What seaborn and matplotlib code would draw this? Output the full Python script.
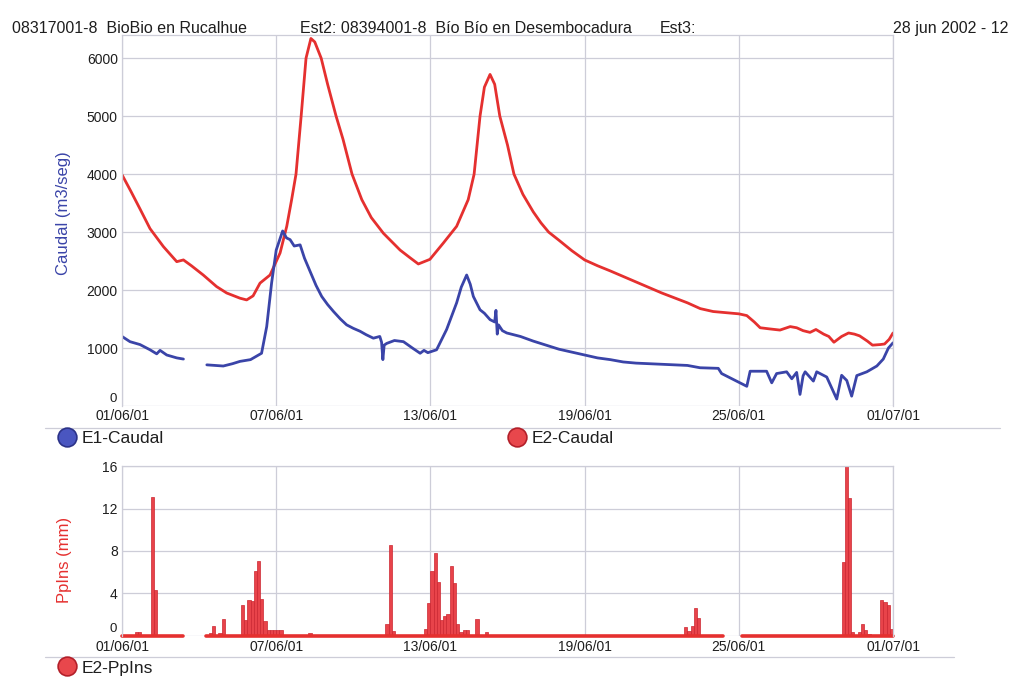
import numpy as np
import pandas as pd
import matplotlib
matplotlib.use("Agg")
import matplotlib.pyplot as plt
import matplotlib.transforms as mtransforms
from matplotlib.lines import Line2D
import seaborn as sns

# ---------------- data ----------------
tick_days = [0, 6, 12, 18, 24, 30]
tick_labels = ["01/06/01", "07/06/01", "13/06/01", "19/06/01", "25/06/01", "01/07/01"]

# E2-Caudal (Bío Bío en Desembocadura), days since 01/06/01
e2_day = [0, 0.35, 0.7, 1.09, 1.61, 2.13, 2.39, 2.7, 3.16, 3.68, 4.07, 4.59, 4.85, 5.1,
          5.37, 5.76, 6.15, 6.41, 6.6, 6.77, 6.97, 7.16, 7.35, 7.5, 7.75, 8.0, 8.33, 8.6,
          8.95, 9.33, 9.7, 10.17, 10.82, 11.2, 11.53, 11.98, 12.5, 13.02, 13.47, 13.7,
          13.93, 14.1, 14.32, 14.5, 14.7, 15.0, 15.25, 15.6, 16.0, 16.3, 16.6, 17.0, 17.5,
          18.0, 18.5, 19.0, 20.0, 21.0, 22.0, 22.5, 23.0, 24.0, 24.31, 24.6, 24.83, 25.2,
          25.6, 26.0, 26.25, 26.5, 26.77, 27.0, 27.3, 27.5, 27.7, 28.0, 28.27, 28.5, 28.7,
          29.0, 29.2, 29.5, 29.67, 29.85, 30.0]
e2_caudal = [3990, 3700, 3400, 3060, 2750, 2490, 2520, 2420, 2260, 2060, 1950, 1860, 1830, 1900,
             2120, 2260, 2640, 3100, 3560, 4000, 5000, 6000, 6340, 6280, 6000, 5550, 5000, 4600,
             4000, 3560, 3250, 2980, 2690, 2560, 2450, 2530, 2810, 3100, 3560, 4000,
             5000, 5500, 5720, 5550, 5000, 4500, 4000, 3650, 3350, 3160, 3000, 2860, 2680,
             2520, 2420, 2330, 2140, 1950, 1780, 1680, 1630, 1590, 1560, 1450, 1350, 1330,
             1310, 1370, 1350, 1300, 1270, 1320, 1240, 1200, 1100, 1200, 1260, 1240, 1210,
             1120, 1050, 1060, 1070, 1150, 1260]

# E1-Caudal (BioBio en Rucalhue): two recorded segments
e1_day_a = [0, 0.31, 0.7, 1.09, 1.35, 1.48, 1.74, 2.13, 2.39]
e1_caudal_a = [1200, 1110, 1060, 970, 900, 960, 880, 830, 810]
e1_day_b = [3.3, 3.94, 4.3, 4.59, 5.0, 5.43, 5.63, 5.82, 6.0, 6.25, 6.4, 6.54, 6.7, 6.93,
            7.1, 7.32, 7.55, 7.77, 8.0, 8.23, 8.5, 8.74, 9.0, 9.26, 9.5, 9.78, 10.03, 10.1,
            10.15, 10.2, 10.3, 10.6, 10.95, 11.3, 11.6, 11.75, 11.9, 12.24, 12.63, 13.02,
            13.2, 13.41, 13.55, 13.67, 13.93, 14.1, 14.32, 14.5, 14.55, 14.6, 14.65, 14.8,
            14.97, 15.5, 16.0, 16.5, 17.0, 17.5, 18.0, 18.5, 19.0, 19.5, 20.0, 21.0, 21.5,
            22.0, 22.49, 23.2, 23.33, 24.31, 24.44, 25.08, 25.28, 25.47, 25.86, 26.06, 26.25,
            26.38, 26.5, 26.58, 26.9, 27.03, 27.42, 27.81, 28.0, 28.2, 28.39, 28.59, 28.98,
            29.37, 29.62, 29.82, 30.0]
e1_caudal_b = [710, 690, 730, 770, 800, 910, 1370, 2120, 2690, 3020, 2900, 2870, 2760, 2780,
               2550, 2320, 2080, 1890, 1750, 1630, 1500, 1400, 1340, 1290, 1230, 1170, 1200, 1100,
               800, 1050, 1080, 1130, 1110, 1000, 910, 960, 920, 970, 1320, 1780,
               2050, 2260, 2100, 1890, 1660, 1600, 1490, 1450, 1650, 1240, 1400, 1300,
               1260, 1200, 1120, 1050, 980, 930, 880, 830, 800, 760, 740, 720, 710,
               700, 660, 650, 560, 340, 600, 600, 400, 560, 590, 470, 580,
               200, 520, 590, 430, 590, 500, 120, 530, 440, 170, 525, 590,
               690, 810, 1000, 1090]

# E2-PpIns: 3-hour precipitation (bin start in days, mm); other recorded bins are 0
pp_day = [0.5, 0.625, 1.125, 1.25,
          3.375, 3.5, 3.75, 3.875, 4.625, 4.75, 4.875, 5.0, 5.125, 5.25, 5.375, 5.5,
          5.625, 5.75, 5.875, 6.0, 6.125, 7.25,
          10.25, 10.375, 10.5, 11.75, 11.875, 12.0, 12.125, 12.25, 12.375, 12.5, 12.625,
          12.75, 12.875, 13.0, 13.125, 13.25, 13.375, 13.75, 14.125,
          21.875, 22.0, 22.125, 22.25, 22.375,
          28.0, 28.125, 28.25, 28.375, 28.625, 28.75, 28.875, 29.0,
          29.5, 29.625, 29.75, 29.875]
pp_mm = [0.4, 0.4, 13.1, 4.3,
         0.3, 0.9, 0.3, 1.6, 2.9, 1.5, 3.4, 3.3, 6.1, 7.1, 3.5, 1.4,
         0.6, 0.6, 0.6, 0.6, 0.6, 0.3,
         1.1, 8.6, 0.5, 0.7, 3.1, 6.1, 7.8, 5.1, 1.5, 1.9, 2.1,
         6.6, 5.0, 1.1, 0.4, 0.6, 0.6, 1.6, 0.4,
         0.8, 0.5, 0.9, 2.6, 1.7,
         7.0, 16.1, 13.0, 0.4, 0.4, 1.1, 0.6, 0.2,
         3.4, 3.2, 2.9, 0.7]
pp_bin = 0.125
# periods with records (baseline drawn), days
rec_start = [0.0, 3.25, 24.125]
rec_end = [2.375, 23.375, 30.0]

header = ["08317001-8  BioBio en Rucalhue",
          "Est2: 08394001-8  Bío Bío en Desembocadura",
          "Est3:",
          "28 jun 2002 - 12"]

# ---------------- style ----------------
sns.set_theme(style="white")
plt.rcParams["font.family"] = ["Liberation Sans", "DejaVu Sans"]

RED = "#e5302f"
BLUE = "#3a44a8"
GRID = "#cdcdd8"
TXT = "#1e1e1e"

fig = plt.figure(figsize=(10.1, 6.81), dpi=100)
ax1 = fig.add_axes([0.1208, 0.4038, 0.7634, 0.5448])
ax2 = fig.add_axes([0.1208, 0.0661, 0.7634, 0.2496])

# ---------------- top panel ----------------
df_e2 = pd.DataFrame({"dia": e2_day, "caudal": e2_caudal})
df_e1 = pd.concat([
    pd.DataFrame({"dia": e1_day_a, "caudal": e1_caudal_a, "seg": 0}),
    pd.DataFrame({"dia": e1_day_b, "caudal": e1_caudal_b, "seg": 1}),
], ignore_index=True)
sns.lineplot(data=df_e2, x="dia", y="caudal", ax=ax1, color=RED, lw=2.0, estimator=None)
sns.lineplot(data=df_e1, x="dia", y="caudal", units="seg", ax=ax1, color=BLUE, lw=2.0,
             estimator=None)
for ln in ax1.lines:
    ln.set_solid_joinstyle("round")

ax1.set_xlim(0, 30)
ax1.set_ylim(0, 6400)
ax1.set_xticks(tick_days)
ax1.set_xticklabels(tick_labels)
ax1.set_yticks([0, 1000, 2000, 3000, 4000, 5000, 6000])
ax1.set_xlabel("")
ax1.set_ylabel("Caudal (m3/seg)", color=BLUE, fontsize=12)
ax1.yaxis.set_label_coords(-0.066, 0.52)

# ---------------- bottom panel ----------------
df_pp = pd.DataFrame({"centro": np.array(pp_day) + pp_bin / 2, "mm": pp_mm})
sns.histplot(data=df_pp, x="centro", weights="mm", binwidth=pp_bin, binrange=(0, 30),
             ax=ax2, color="#e8434a", edgecolor="#cc2630", linewidth=0.5, alpha=1.0)
for p in ax2.patches:
    if p.get_height() == 0:
        p.set_visible(False)

df_base = pd.DataFrame({
    "dia": rec_start + rec_end,
    "pp": [0.0] * (2 * len(rec_start)),
    "seg": list(range(len(rec_start))) * 2,
})
sns.lineplot(data=df_base, x="dia", y="pp", units="seg", ax=ax2, color=RED, lw=2.6,
             estimator=None)
for ln in ax2.lines:
    ln.set_clip_on(False)

ax2.set_xlim(0, 30)
ax2.set_ylim(0, 16)
ax2.set_xticks(tick_days)
ax2.set_xticklabels(tick_labels)
ax2.set_yticks([0, 4, 8, 12, 16])
ax2.set_xlabel("")
ax2.set_ylabel("PpIns (mm)", color=RED, fontsize=12)
ax2.yaxis.set_label_coords(-0.065, 0.45)

for ax in (ax1, ax2):
    ax.grid(True, color=GRID, lw=0.9)
    ax.set_axisbelow(True)
    ax.tick_params(length=0, labelsize=10, colors=TXT)
    ax.tick_params(axis="y", pad=3)
    for s in ("left", "right", "top"):
        ax.spines[s].set_color(GRID)
        ax.spines[s].set_linewidth(0.9)
    ax.spines["bottom"].set_visible(False)
    ax.set_facecolor("white")
ax1.tick_params(axis="x", pad=2)
ax2.tick_params(axis="x", pad=3)

# lift the "0" labels a little so they sit above the first date label
lift = mtransforms.ScaledTranslation(-1 / 72, 6 / 72, fig.dpi_scale_trans)
for ax in (ax1, ax2):
    lab0 = ax.get_yticklabels()[0]
    lab0.set_transform(lab0.get_transform() + lift)
    lab0.set_fontsize(9.5)

# ---------------- header ----------------
hy = 0.9575
fig.text(0.012, hy, header[0], fontsize=11.5, color=TXT, va="center")
fig.text(0.297, hy, header[1], fontsize=11.5, color=TXT, va="center")
fig.text(0.653, hy, header[2], fontsize=11.5, color=TXT, va="center")
fig.text(0.998, hy, header[3], fontsize=11.5, color=TXT, va="center", ha="right")

# ---------------- separators & legends ----------------
fig.add_artist(Line2D([0.045, 0.99], [0.3715, 0.3715], color=GRID, lw=0.9))
fig.add_artist(Line2D([0.045, 0.945], [0.0352, 0.0352], color=GRID, lw=0.9))


def circle_handle(face, edge, label):
    return Line2D([], [], marker="o", linestyle="", markersize=13.5,
                  markerfacecolor=face, markeredgecolor=edge, markeredgewidth=1.2,
                  label=label)


for face, edge, lab, xx, yy in [
    ("#4a56c0", "#2c3388", "E1-Caudal", 0.058, 0.3568),
    ("#e8474c", "#b3202a", "E2-Caudal", 0.5036, 0.3568),
    ("#e8474c", "#b3202a", "E2-PpIns", 0.058, 0.0191),
]:
    fig.legend(handles=[circle_handle(face, edge, lab)], loc="center left",
               bbox_to_anchor=(xx, yy), frameon=False, fontsize=12.5,
               handlelength=1.0, handletextpad=0.3, borderpad=0, borderaxespad=0,
               labelcolor=TXT)

fig.savefig("out.png", dpi=100, facecolor="white")
